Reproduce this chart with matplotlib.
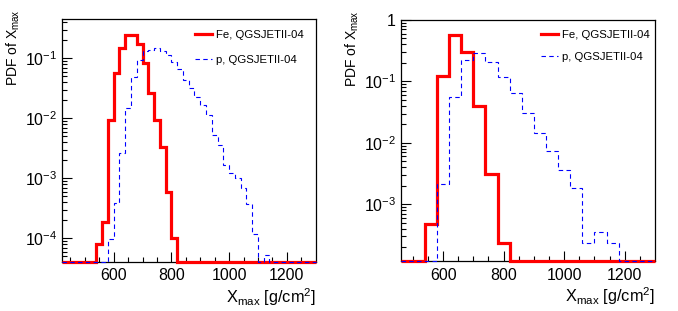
# Xmax PDFs, Fe vs p (QGSJETII-04), two energy samples

import numpy as np
import matplotlib.pyplot as plt
from matplotlib.ticker import FixedLocator, LogLocator, FuncFormatter

plt.rcParams['font.family'] = ['Liberation Sans', 'DejaVu Sans']
plt.rcParams['mathtext.fontset'] = 'custom'
plt.rcParams['mathtext.rm'] = 'Liberation Sans'
plt.rcParams['mathtext.it'] = 'Liberation Sans'

# left panel: 20 g/cm2 bins
left_fe_start = 540
left_fe = [8.0e-5, 1.85e-4, 9.4e-3, 0.056, 0.150, 0.244, 0.244, 0.171,
           0.0825, 0.026, 0.0094, 3.3e-3, 6.0e-4, 1.0e-4]
left_p_start = 580
left_p = [9.8e-5, 3.9e-4, 2.67e-3, 0.0147, 0.048, 0.094, 0.132, 0.137,
          0.147, 0.134, 0.113, 0.088, 0.066, 0.0435, 0.0316, 0.0229,
          0.0167, 0.0114, 0.00527, 0.00359, 0.00167, 0.00121, 0.001,
          6.8e-4, 3.8e-4, 1.2e-4, 0, 5.2e-5]

# right panel: 40 g/cm2 bins
right_fe_start = 540
right_fe = [4.8e-4, 0.123, 0.57, 0.305, 0.0405, 3.13e-3, 2.34e-4]
right_p_start = 580
right_p = [2.15e-3, 0.0567, 0.224, 0.294, 0.21, 0.12, 0.0642, 0.0304,
           0.0144, 7.5e-3, 3.55e-3, 1.83e-3, 2.34e-4, 3.6e-4, 2.34e-4]

fe_label = 'Fe, QGSJETII-04'
p_label = 'p, QGSJETII-04'


def full_hist(start, vals, width, xmin, xmax, floor):
    edges = np.arange(xmin, xmax + width / 2, width)
    h = np.full(len(edges) - 1, floor)
    i0 = int(round((start - xmin) / width))
    for k, v in enumerate(vals):
        h[i0 + k] = v if v > floor else floor
    return edges, h


def fmt_log(v, pos):
    if abs(v - 1) < 1e-9:
        return '1'
    e = int(round(np.log10(v)))
    return r'$10^{%d}$' % e


fig = plt.figure(figsize=(6.78, 3.11), dpi=100)

panels = [
    dict(rect=[0.091, 0.159, 0.3746, 0.779], xlim=(420, 1300), ylim=(4.1e-5, 0.447),
         width=20, fe=(left_fe_start, left_fe), p=(left_p_start, left_p),
         leg=(0.525, 0.957), spacing=1.35),
    dict(rect=[0.591, 0.161, 0.375, 0.775], xlim=(460, 1300), ylim=(1.2e-4, 1.0),
         width=40, fe=(right_fe_start, right_fe), p=(right_p_start, right_p),
         leg=(0.552, 0.96), spacing=1.07),
]

for pn in panels:
    ax = fig.add_axes(pn['rect'])
    ax.set_yscale('log')
    x0, x1 = pn['xlim']
    y0, y1 = pn['ylim']
    e, h = full_hist(*pn['fe'], pn['width'], x0, x1, y0)
    ax.stairs(h, e, baseline=None, color='#ff0000', lw=2.3, label=fe_label,
              clip_on=False, zorder=3)
    e, h = full_hist(*pn['p'], pn['width'], x0, x1, y0)
    ax.stairs(h, e, baseline=None, color='#0000ff', lw=0.8, ls=(0, (4, 3)), label=p_label,
              clip_on=False, zorder=3.1)
    ax.set_xlim(x0, x1)
    ax.set_ylim(y0, y1)

    ax.xaxis.set_major_locator(FixedLocator([600, 800, 1000, 1200]))
    ax.xaxis.set_minor_locator(FixedLocator(np.arange(450, 1300, 50)))
    ax.yaxis.set_major_locator(LogLocator(base=10, numticks=10))
    ax.yaxis.set_minor_locator(LogLocator(base=10, subs=np.arange(2, 10), numticks=20))
    ax.yaxis.set_major_formatter(FuncFormatter(fmt_log))
    ax.yaxis.set_minor_formatter(FuncFormatter(lambda v, p: ''))
    ax.tick_params(which='both', direction='in', top=False, right=False, labelsize=11.5)
    ax.tick_params(which='major', length=7, width=0.8)
    ax.tick_params(which='minor', length=3.5, width=0.8)
    ax.tick_params(axis='x', pad=5)
    for s in ax.spines.values():
        s.set_linewidth(0.9)

    ax.legend(loc='upper left', bbox_to_anchor=pn['leg'], frameon=False,
              fontsize=8.2, handlelength=1.5, handletextpad=0.3,
              labelspacing=pn['spacing'], borderpad=0, borderaxespad=0)

    ax.set_xlabel(r'X$_{\mathrm{max}}$ [g/cm$^{2}$]', fontsize=11.8, loc='right', labelpad=2)
    ax.set_ylabel(r'PDF of X$_{\mathrm{max}}$', fontsize=10, loc='top', labelpad=4)
    ax.yaxis.set_label_coords(-0.155, 1.04)

fig.savefig('out.png', dpi=100)
